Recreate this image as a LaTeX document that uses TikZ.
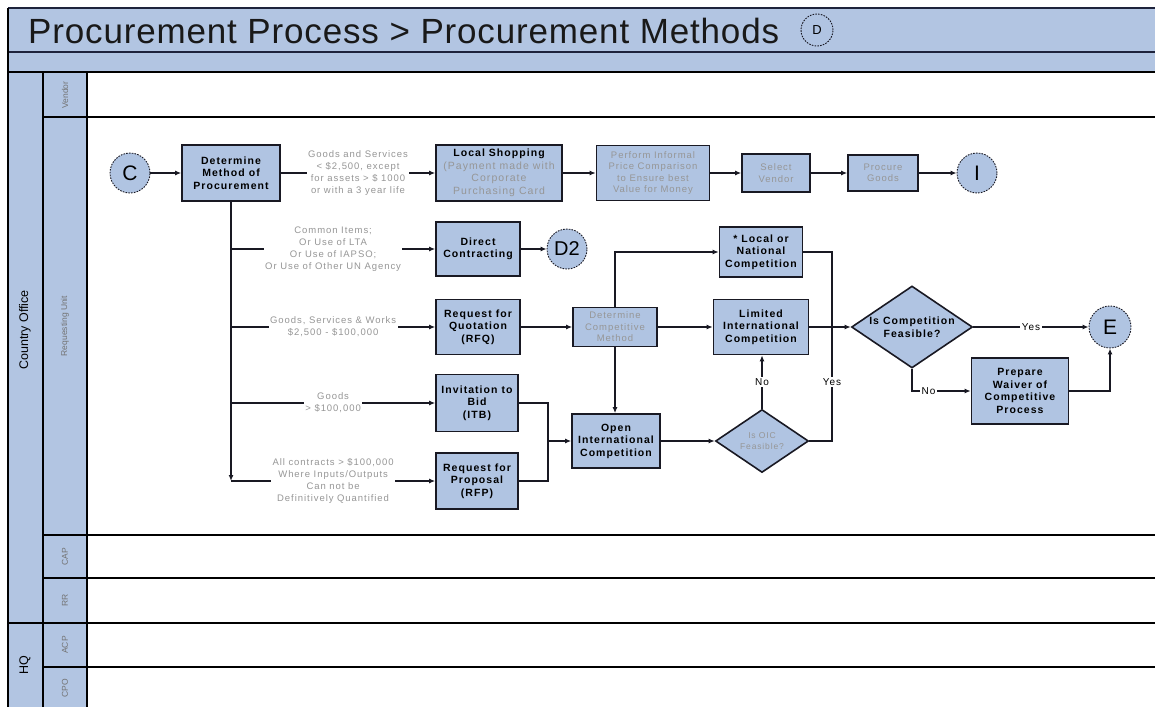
\documentclass[tikz,border=0pt]{standalone}
\usepackage{fontspec}
\setmainfont{Liberation Sans}
\newfontfamily\spc[LetterSpace=10]{Liberation Sans}
\newfontfamily\ttl[LetterSpace=2.4]{Liberation Sans}
\usetikzlibrary{arrows.meta,shapes.geometric}
\definecolor{lane}{RGB}{178,197,226}
\definecolor{boxfill}{RGB}{176,196,226}
\definecolor{greytxt}{RGB}{150,150,150}
\definecolor{edge}{RGB}{25,25,35}
\definecolor{navy}{RGB}{30,35,60}
\tikzset{
 box/.style={draw=edge, line width=1.6pt, fill=boxfill, align=center, inner sep=1pt, font=\spc\bfseries\fontsize{10.5}{12.5}\selectfont, text=black},
 gbox/.style={box, font=\spc\fontsize{9.5}{11.5}\selectfont, text=greytxt},
 conn/.style={circle, draw=edge, line width=0.9pt, dash pattern=on 1.6pt off 1.2pt, fill=boxfill, inner sep=0pt, font=\fontsize{21}{21}\selectfont},
 lbl/.style={fill=white, text=greytxt, align=center, inner sep=1.5pt, font=\spc\fontsize{9.5}{11.8}\selectfont},
 yn/.style={fill=white, text=black, inner sep=1.5pt, font=\spc\fontsize{10}{12}\selectfont},
 arr/.style={line width=1.3pt, draw=edge, -{Latex[length=6pt,width=5pt]}},
 ln/.style={line width=1.3pt, draw=edge},
 lanel/.style={rotate=90, text=black!55, font=\fontsize{8.5}{10}\selectfont},
 dia/.style={diamond, draw=edge, line width=1.6pt, fill=boxfill, inner sep=0pt},
 laneline/.style={line width=1.2pt, draw=black},
}
\begin{document}
\begin{tikzpicture}[x=1pt,y=-1pt]
\useasboundingbox (0,0) rectangle (1155,707);
% bands and lanes
\fill[lane] (8,8) rectangle (1155,72);
\fill[lane] (8,72) rectangle (87,707);
\draw[navy, line width=1.5pt] (8,8) -- (1155,8);
\draw[navy, line width=1.5pt] (8,52) -- (1155,52);
\draw[laneline] (8,72) -- (1155,72);
\draw[line width=1.5pt] (8,8) -- (8,707);
\draw[laneline] (43,72) -- (43,707);
\draw[laneline] (87,72) -- (87,707);
\foreach \yy in {117,535,578,667} \draw[laneline] (43,\yy) -- (1155,\yy);
\draw[laneline] (8,623) -- (1155,623);
% title
\node[anchor=base west, font=\ttl\fontsize{35}{35}\selectfont, text=black!90, inner sep=0pt] (title) at (28,43) {Procurement Process > Procurement Methods};
\node[conn, minimum size=32pt, font=\fontsize{13}{13}\selectfont] (dref) at (817,30) {D};
% lane labels
\node[rotate=90, font=\fontsize{12.5}{13}\selectfont] (co) at (25,330) {Country Office};
\node[rotate=90, font=\fontsize{12.5}{13}\selectfont] (hq) at (25,665) {HQ};
\node[lanel] (vendor) at (65,95) {Vendor};
\node[lanel] (ru) at (65,326) {Requesting Unit};
\node[lanel] (cap) at (65,557) {CAP};
\node[lanel] (rr) at (65,600) {RR};
\node[lanel] (acp) at (65,645) {ACP};
\node[lanel] (cpo) at (65,688) {CPO};
% row 1
\node[conn, minimum size=40pt] (C) at (130,173) {C};
\node[box, minimum width=98pt, minimum height=56pt] (det) at (231,173) {Determine\\Method of\\Procurement};
\node[box, minimum width=126pt, minimum height=56pt] (ls) at (499,173) {Local Shopping\\\textcolor{greytxt}{\mdseries (Payment made with}\\\textcolor{greytxt}{\mdseries Corporate}\\\textcolor{greytxt}{\mdseries Purchasing Card}};
\node[gbox, minimum width=113pt, minimum height=55pt] (perf) at (653,173) {Perform Informal\\Price Comparison\\to Ensure best\\Value for Money};
\node[gbox, minimum width=68pt, minimum height=38pt] (sel) at (776,173) {Select\\Vendor};
\node[gbox, minimum width=70pt, minimum height=36pt] (proc) at (883,173) {Procure\\Goods};
\node[conn, minimum size=40pt] (I) at (977,173) {I};
% middle
\node[box, minimum width=84pt, minimum height=54pt] (dc) at (478,249) {Direct\\Contracting};
\node[conn, minimum size=40pt, font=\fontsize{20}{20}\selectfont] (D2) at (567,249) {D2};
\node[box, minimum width=84pt, minimum height=55pt] (rfq) at (478,327) {Request for\\Quotation\\(RFQ)};
\node[gbox, minimum width=84pt, minimum height=39pt] (dcm) at (615,327) {Determine\\Competitive\\Method};
\node[box, minimum width=83pt, minimum height=50pt] (lnc) at (761,252) {* Local or\\National\\Competition};
\node[box, minimum width=95pt, minimum height=55pt] (lic) at (761,327) {Limited\\International\\Competition};
\node[dia, minimum width=121pt, minimum height=82pt] (icf) at (912,327) {};
\node[font=\spc\bfseries\fontsize{10.5}{12.5}\selectfont, align=center, inner sep=0pt] (icft) at (912,327) {Is Competition\\Feasible?};
\node[conn, minimum size=42pt] (E) at (1110,327) {E};
\node[box, minimum width=97pt, minimum height=66pt] (pw) at (1020,391) {Prepare\\Waiver of\\Competitive\\Process};
\node[box, minimum width=82pt, minimum height=57pt] (itb) at (477,403) {Invitation to\\Bid\\(ITB)};
\node[box, minimum width=82pt, minimum height=56pt] (rfp) at (477,481) {Request for\\Proposal\\(RFP)};
\node[box, minimum width=88pt, minimum height=54pt] (oic) at (616,441) {Open\\International\\Competition};
\node[dia, minimum width=93pt, minimum height=63pt] (oicf) at (762,441) {};
\node[text=greytxt, font=\spc\fontsize{8.5}{10.5}\selectfont, align=center, inner sep=0pt] (oicft) at (762,441) {Is OIC\\Feasible?};
% connectors row 1
\draw[arr] (C) -- (det);
\draw[arr] (det) -- (ls) node[lbl, midway] {Goods and Services\\< \$2,500, except\\for assets > \$ 1000\\or with a 3 year life};
\draw[arr] (ls) -- (perf);
\draw[arr] (perf) -- (sel);
\draw[arr] (sel) -- (proc);
\draw[arr] (proc) -- (I);
% trunk and branches
\coordinate (tend) at (231,481);
\draw[arr] (det.south) -- (tend);
\draw[arr] (tend) -- (rfp.west) node[lbl, midway] {All contracts > \$100,000\\Where Inputs/Outputs\\Can not be\\Definitively Quantified};
\draw[arr] (dc.west -| det.south) -- (dc.west) node[lbl, midway] {Common Items;\\Or Use of LTA\\Or Use of IAPSO;\\Or Use of Other UN Agency};
\draw[arr] (rfq.west -| det.south) -- (rfq.west) node[lbl, midway] {Goods, Services \& Works\\\$2,500 - \$100,000};
\draw[arr] (itb.west -| det.south) -- (itb.west) node[lbl, midway] {Goods\\> \$100,000};
\draw[arr] (dc) -- (D2);
\draw[arr] (rfq) -- (dcm);
\draw[arr] (dcm.north) |- (lnc.west);
\draw[arr] (dcm) -- (lic);
\draw[arr] (dcm.south) -- (dcm.south |- oic.north);
\coordinate (J) at (548,441);
\draw[ln] (itb.east) -| (J);
\draw[ln] (rfp.east) -| (J);
\draw[arr] (J) -- (oic.west);
\draw[arr] (oic) -- (oicf);
\draw[arr] (oicf.north) -- (oicf.north |- lic.south) node[yn, midway] {No};
\coordinate (vx) at (832,441);
\draw[ln] (oicf.east) -- (vx) -- node[yn, pos=0.31] {Yes} (vx |- lnc.east) -- (lnc.east);
\draw[arr] (lic) -- (icf);
\draw[arr] (icf) -- node[yn, midway] {Yes} (E);
\draw[arr] (icf.south) |- node[yn, pos=0.64] {No} (pw.west);
\draw[arr] (pw.east) -| (E.south);
\end{tikzpicture}
\end{document}
